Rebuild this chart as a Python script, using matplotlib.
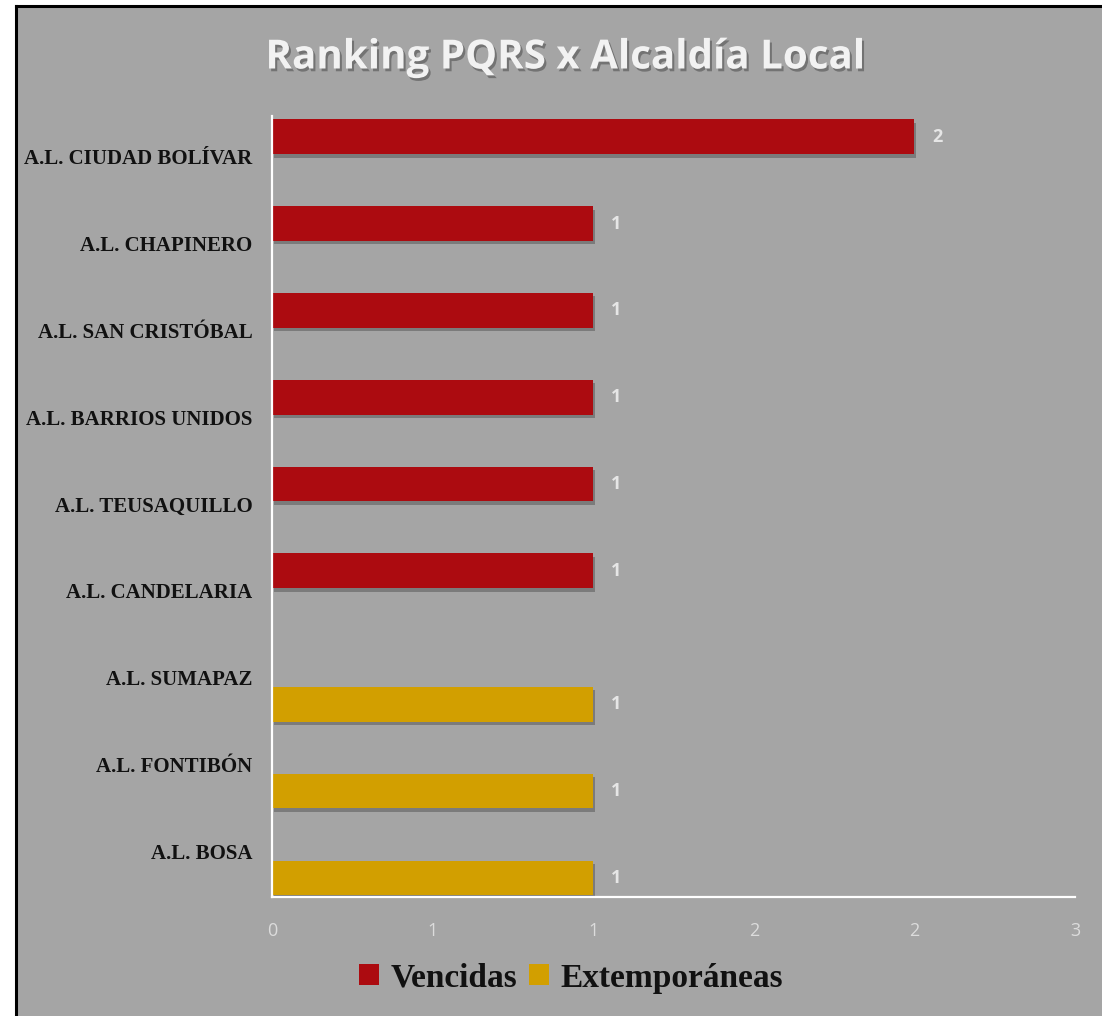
import numpy as np
import matplotlib.pyplot as plt
import matplotlib.patheffects as pe
from matplotlib.patches import Rectangle

categorias = ['A.L. CIUDAD BOLÍVAR', 'A.L. CHAPINERO', 'A.L. SAN CRISTÓBAL',
              'A.L. BARRIOS UNIDOS', 'A.L. TEUSAQUILLO', 'A.L. CANDELARIA',
              'A.L. SUMAPAZ', 'A.L. FONTIBÓN', 'A.L. BOSA']
vencidas = [2, 1, 1, 1, 1, 1, 0, 0, 0]
extemporaneas = [0, 0, 0, 0, 0, 0, 1, 1, 1]
ticks = [0, 0.5, 1, 1.5, 2, 2.5]
tick_labels = ['0', '1', '1', '2', '2', '3']

gris = '#A5A5A5'
rojo = '#AC0B10'
amarillo = '#D29F00'

W, H = 1102, 1016
fig = plt.figure(figsize=(W / 100, H / 100), dpi=100, facecolor='white')

# fondo gris con borde negro arriba e izquierda
fig.patches.append(Rectangle((16 / W, 0), 1 - 16 / W, 1 - 6 / H, transform=fig.transFigure,
                             facecolor=gris, edgecolor='none', zorder=-5))
fig.lines.append(plt.Line2D([16 / W, 16 / W], [0, 1 - 6 / H], transform=fig.transFigure,
                            color='black', lw=2.2, zorder=-4))
fig.lines.append(plt.Line2D([16 / W, 1], [1 - 6 / H, 1 - 6 / H], transform=fig.transFigure,
                            color='black', lw=2.2, zorder=-4))

ax = fig.add_axes([272 / W, 1 - 897 / H, (1075 - 272) / W, (897 - 116) / H])
ax.set_facecolor('none')
ax.set_zorder(2)

y = np.arange(len(categorias))
h = 0.40
sombra = [pe.withSimplePatchShadow(offset=(1.5, -2.5), shadow_rgbFace='black', alpha=0.25)]
b1 = ax.barh(y - 0.26, vencidas, height=h, color=rojo, label='Vencidas', path_effects=sombra)
b2 = ax.barh(y + 0.28, extemporaneas, height=h, color=amarillo, label='Extemporáneas',
             path_effects=sombra)

for i in range(len(categorias)):
    if vencidas[i] > 0:
        ax.text(vencidas[i] + 0.055, y[i] - 0.26, str(vencidas[i]), va='center', ha='left',
                color='#E6E6E6', fontsize=13, fontweight='bold', family='Open Sans')
    if extemporaneas[i] > 0:
        ax.text(extemporaneas[i] + 0.055, y[i] + 0.28, str(extemporaneas[i]), va='center',
                ha='left', color='#E6E6E6', fontsize=13, fontweight='bold', family='Open Sans')

ax.set_ylim(len(categorias) - 0.5, -0.5)
ax.set_xlim(0, 2.5)
ax.set_yticks(y)
ax.set_yticklabels(categorias, family='Liberation Serif', fontweight='bold', fontsize=15,
                   color='#111111', va='bottom')
ax.set_xticks(ticks)
ax.set_xticklabels(tick_labels, family='Open Sans', fontsize=13, color='#DCDCDC')
ax.tick_params(length=0)
ax.tick_params(axis='x', pad=18)
ax.tick_params(axis='y', pad=14)
for lab in ax.get_yticklabels():
    lab.set_va('center')

for s in ['top', 'right']:
    ax.spines[s].set_visible(False)
for s in ['left', 'bottom']:
    ax.spines[s].set_color('white')
    ax.spines[s].set_linewidth(1.6)

fig.text(565 / W, 1 - 58 / H, 'Ranking PQRS x Alcaldía Local', ha='center', va='center',
         color='#F2F2F2', fontsize=29, fontweight='bold', family='Open Sans',
         path_effects=[pe.withSimplePatchShadow(offset=(1.5, -2), shadow_rgbFace='black',
                                                alpha=0.3)])

leg = fig.legend(handles=[b1, b2], loc='center', bbox_to_anchor=(571 / W, 1 - 978 / H),
                 ncol=2, frameon=False, handlelength=0.6, handleheight=0.6,
                 handletextpad=0.35, columnspacing=0.35,
                 prop={'family': 'Liberation Serif', 'weight': 'bold', 'size': 24})
for t in leg.get_texts():
    t.set_color('#111111')
for p in leg.get_patches():
    p.set_path_effects([])

fig.savefig('out.png', dpi=100, facecolor='white')
